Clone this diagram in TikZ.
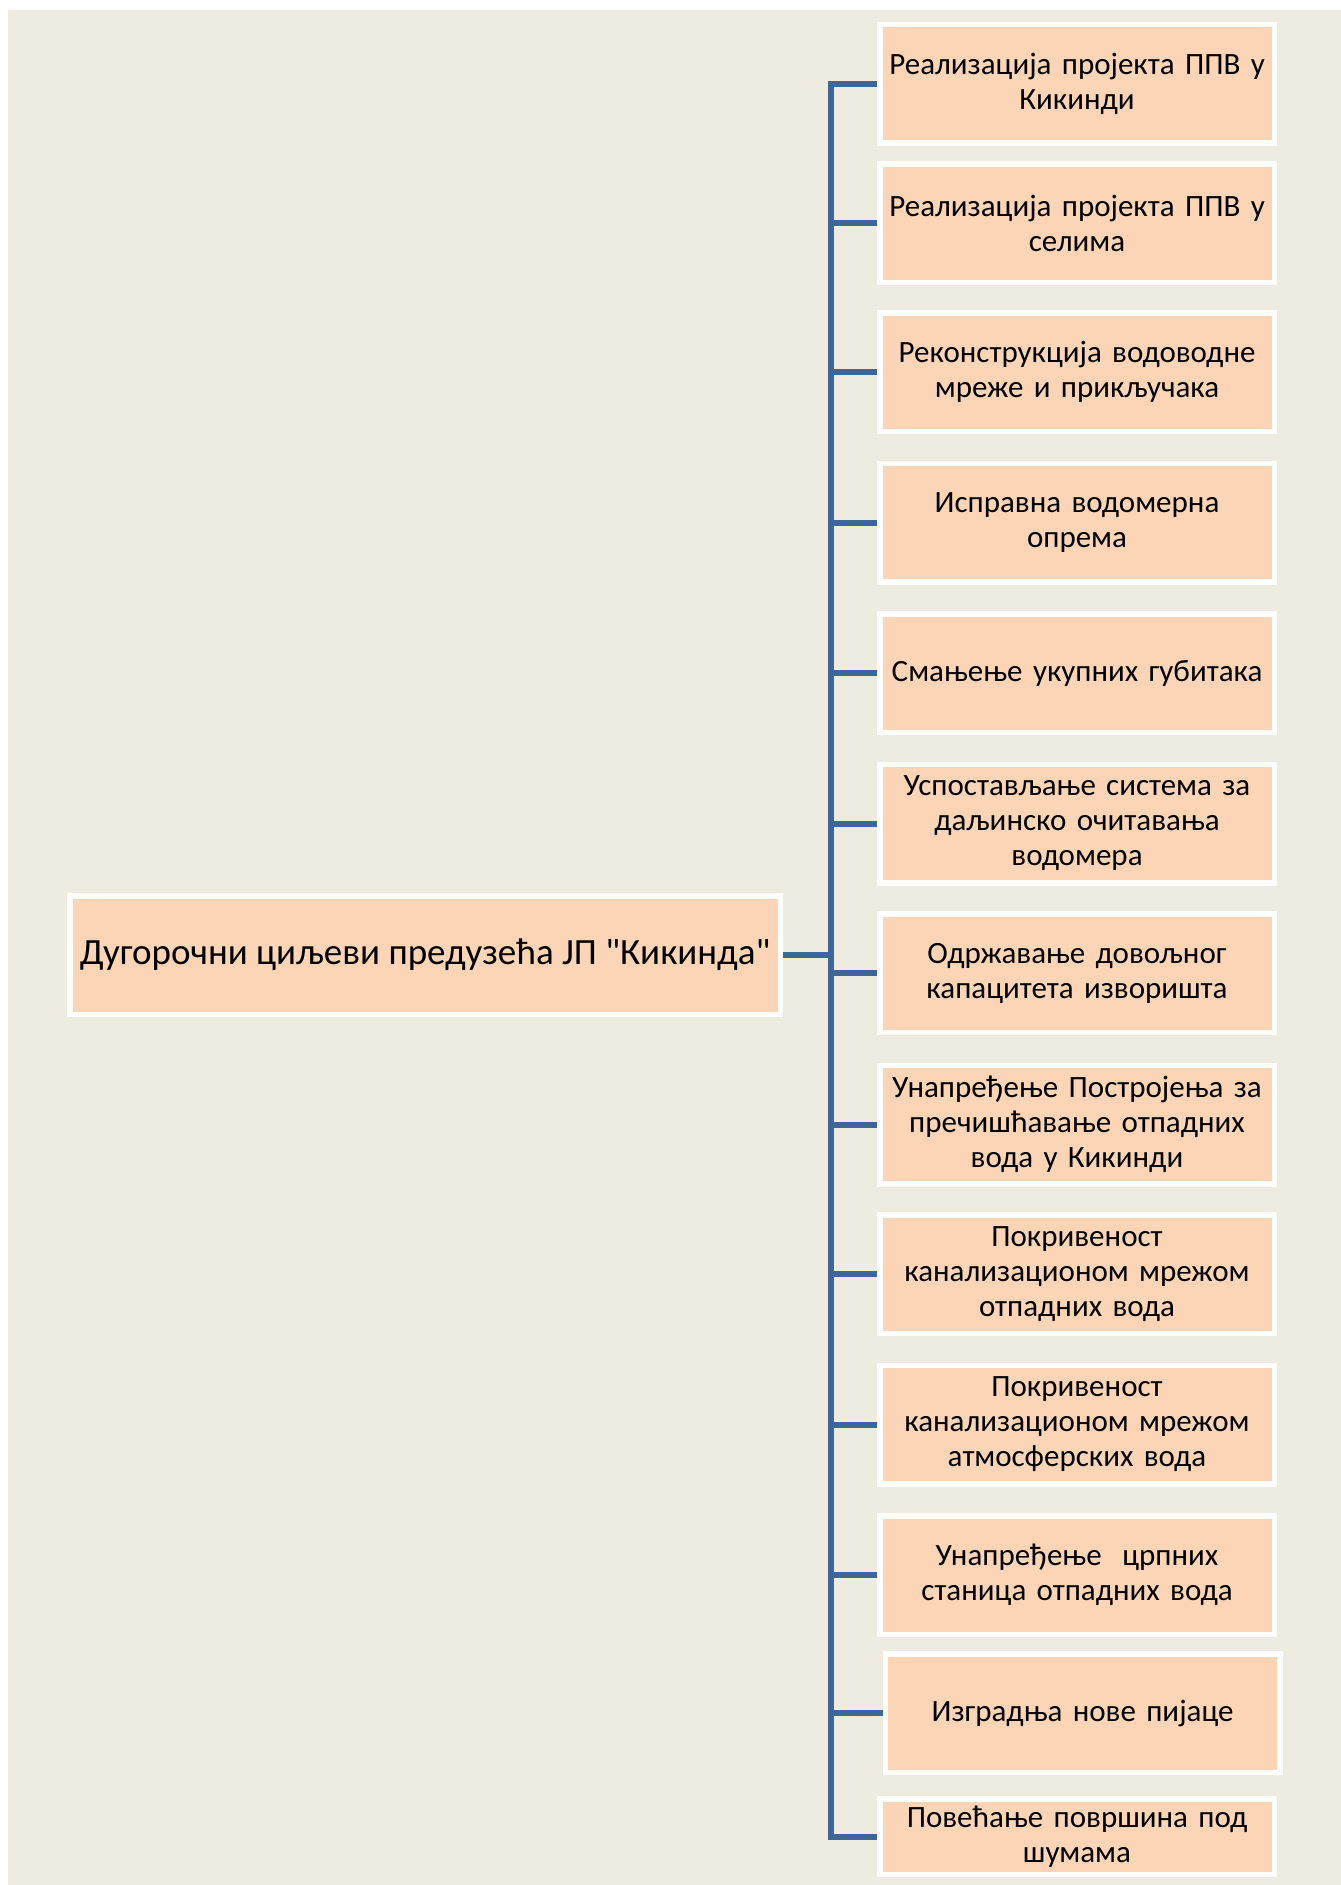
\documentclass[tikz,border=0pt]{standalone}
\usepackage{fontspec}
\setmainfont{Carlito}[Ligatures=TeXOff]
\definecolor{bgc}{HTML}{EEEBE0}
\definecolor{boxc}{HTML}{FBD5B5}
\definecolor{linec}{HTML}{3F6698}
\begin{document}
\begin{tikzpicture}[x=1pt,y=-1pt,
  goal/.style={draw=white, line width=5.5pt, fill=boxc, minimum width=394.5pt, minimum height=118.5pt,
     text width=390pt, align=center, inner sep=0pt, font=\fontsize{31}{35}\selectfont},
  rootbox/.style={draw=white, line width=5.5pt, fill=boxc, minimum width=710.5pt, minimum height=118.5pt,
     align=center, inner sep=0pt, font=\fontsize{37}{42}\selectfont},
  conn/.style={draw=linec, line width=6pt}]
\useasboundingbox (0,0) rectangle (1341,1885);
\fill[white] (0,0) rectangle (1341,1885);
\fill[bgc] (8,10) rectangle (1341,1885);

\node[rootbox] (root) at (425,955) {Дугорочни циљеви предузећа ЈП "Кикинда"};

\node[goal] (b1) at (1077,83.5) {Реализација пројекта ППВ у\\Кикинди};
\node[goal] (b2) at (1077,223) {Реализација пројекта ППВ у\\селима};
\node[goal] (b3) at (1077,372) {Реконструкција водоводне\\мреже и прикључака};
\node[goal] (b4) at (1077,522.5) {Исправна водомерна\\опрема};
\node[goal] (b5) at (1077,673) {Смањење укупних губитака};
\node[goal] (b6) at (1077,823.5) {Успостављање система за\\даљинско очитавања\\водомера};
\node[goal] (b7) at (1077,973) {Одржавање довољног\\капацитета изворишта};
\node[goal] (b8) at (1077,1124.5) {Унапређење Постројења за\\пречишћавање отпадних\\вода у Кикинди};
\node[goal] (b9) at (1077,1274) {Покривеност\\канализационом мрежом\\отпадних вода};
\node[goal] (b10) at (1077,1424.5) {Покривеност\\канализационом мрежом\\атмосферских вода};
\node[goal] (b11) at (1077,1575) {Унапређење~ црпних\\станица отпадних вода};
\node[goal] (b12) at (1082.5,1713) {Изградња нове пијаце};
\node[goal, minimum height=75.5pt] (b13) at (1077,1836.5) {Повећање површина под\\шумама};

\coordinate (t) at (831,0);
\draw[conn, line cap=rect] (t |- b1.west) -- (t |- b13.west);
\draw[conn] (root.east) -- (root.east -| t);
\foreach \b in {b1,b2,b3,b4,b5,b6,b7,b8,b9,b10,b11,b12,b13}
  \draw[conn] (t |- \b.west) -- (\b.west);
\end{tikzpicture}
\end{document}
